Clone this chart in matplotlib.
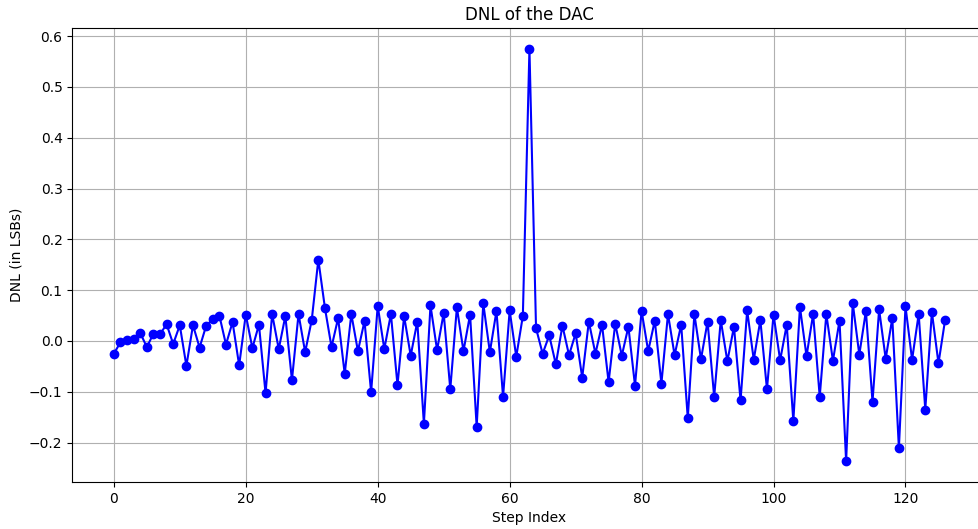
import matplotlib
matplotlib.use("Agg")
import matplotlib.pyplot as plt
import numpy as np

dnl = [
    -0.025, -0.003, 0.002, 0.004, 0.016, -0.012, 0.014, 0.013, 0.033, -0.006,
    0.031, -0.049, 0.031, -0.013, 0.030, 0.043, 0.050, -0.007, 0.037, -0.048,
    0.052, -0.014, 0.032, -0.103, 0.053, -0.016, 0.049, -0.077, 0.053, -0.022,
    0.041, 0.160, 0.065, -0.012, 0.045, -0.065, 0.053, -0.020, 0.039, -0.101,
    0.069, -0.016, 0.053, -0.087, 0.049, -0.029, 0.038, -0.163, 0.070, -0.018,
    0.055, -0.095, 0.066, -0.020, 0.052, -0.169, 0.074, -0.022, 0.059, -0.110,
    0.060, -0.031, 0.049, 0.575, 0.025, -0.025, 0.011, -0.046, 0.030, -0.028,
    0.015, -0.072, 0.038, -0.025, 0.032, -0.081, 0.034, -0.029, 0.028, -0.088,
    0.059, -0.020, 0.040, -0.084, 0.053, -0.028, 0.032, -0.152, 0.053, -0.036,
    0.038, -0.110, 0.041, -0.040, 0.028, -0.117, 0.060, -0.037, 0.041, -0.095,
    0.052, -0.038, 0.032, -0.158, 0.067, -0.030, 0.053, -0.110, 0.053, -0.039,
    0.040, -0.237, 0.075, -0.027, 0.059, -0.120, 0.062, -0.035, 0.045, -0.211,
    0.068, -0.037, 0.053, -0.135, 0.057, -0.044, 0.041,
]
steps = np.arange(len(dnl))

fig = plt.figure(figsize=(9.79, 5.29), dpi=100)
ax = fig.add_axes([0.0738, 0.0888, 0.934, 0.858])
ax.plot(steps, dnl, marker='o', linestyle='-', color='blue')
ax.set_title('DNL of the DAC')
ax.set_xlabel('Step Index')
ax.set_ylabel('DNL (in LSBs)')
ax.grid(True)
fig.savefig('out.png', dpi=100)
